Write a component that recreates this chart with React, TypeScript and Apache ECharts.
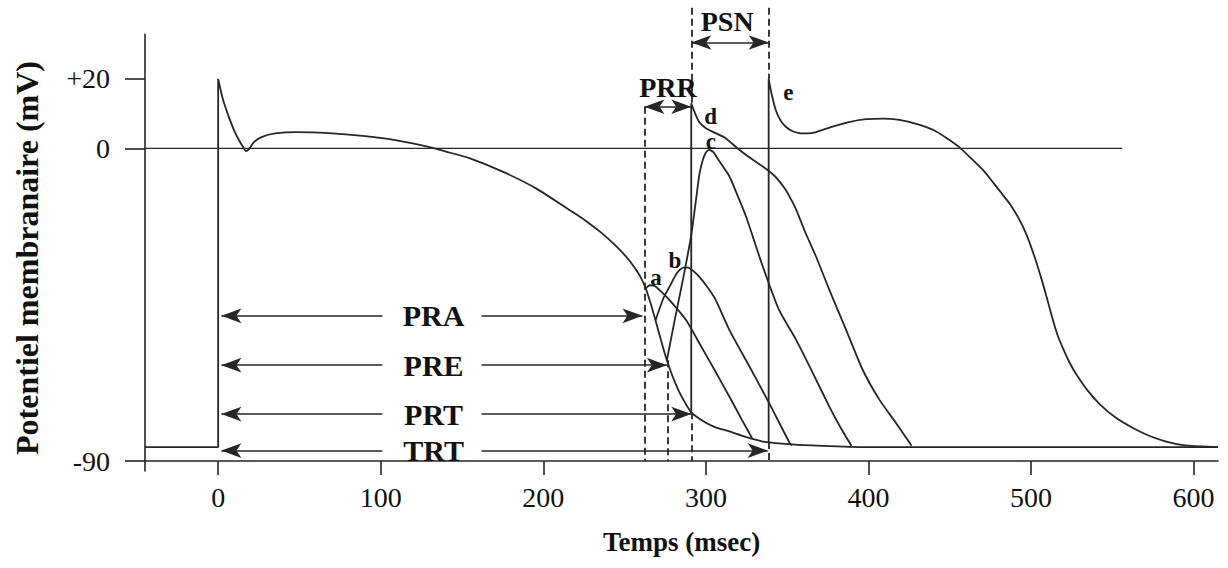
import React, { useEffect, useRef } from "react";
import * as echarts from "echarts";

// ---- axis ranges & ticks ----
const X_MIN = -45;
const X_MAX = 615;
const Y_MIN = -90;
const Y_MAX = 41;
const xTicks = [0, 100, 200, 300, 400, 500, 600];
const yTicks = [-90, 0, 20];

// ---- traces (time ms, potential mV) ----
const mainAP: number[][] = [
  [-45, -86], [0, -86], [0, 20], [3, 14], [7, 8.5], [10, 5], [13, 2.2], [15.5, 0.3], [17, -0.8], [19, -0.2],
  [22, 1.8], [27, 3.3], [35, 4.3], [48, 4.7], [68, 4.4], [89, 3.6], [109, 2.4], [124, 1], [133, 0], [140, -0.9],
  [154.5, -2.8], [175, -6.7], [195.5, -11.5], [216, -17.7], [226, -20.8], [236, -24.4], [244, -27.8],
  [251, -31.2], [256, -34.2], [260, -37.2], [263, -40.3], [266, -44.6], [269, -49.5], [276, -61], [283, -69.5],
  [291, -76], [300, -79], [306, -80.3], [314.5, -81.5], [324, -83], [335, -84.4], [355, -85.3], [376, -85.7],
  [400, -86], [615, -86],
];
const curveA: number[][] = [
  [263, -40.3], [265.5, -39.4], [268.5, -39.6], [272, -41], [277.5, -43.6], [287.8, -49.4], [296, -56.1],
  [305, -63.5], [314.5, -71.5], [322, -78], [328.5, -83.5],
];
const curveB: number[][] = [
  [269, -49.5], [274, -43], [278, -39.5], [282, -36], [286, -34.3], [289, -34.3], [292, -35.2], [296, -37],
  [301, -40], [306, -43.6], [314.5, -52.3], [326.8, -62.8], [339, -73.4], [351.4, -84.7], [353, -85.5],
];
const curveC: number[][] = [
  [276, -61], [281, -49], [286, -37.5], [291, -25], [294, -14.5], [296, -7.5], [298, -3.5], [300, -1.2],
  [302, -0.4], [304.5, -1], [308, -3.5], [314.5, -8.1], [319, -13], [324.7, -19.6], [335, -34], [345, -46.5],
  [355.6, -55.2], [365.8, -64.7], [376, -74.4], [383, -80.5], [389.5, -85.6],
];
const curveD: number[][] = [
  [291, -76], [291, 13], [293, 10.5], [296, 7.5], [300, 5.8], [305, 4.6], [312, 3], [319, 0.2], [325, -2],
  [335, -5.2], [342, -7.8], [348, -11.2], [352, -14.3], [355.6, -17.7], [361, -24], [367.8, -31.2], [376, -40.8],
  [386.3, -52.3], [396.5, -63.8], [406.8, -72.4], [417, -79.1], [422, -82.5], [426.5, -85.6],
];
const curveE: number[][] = [
  [338.6, -84.5], [338.6, 20], [340.5, 15.5], [343, 11], [346, 8], [349, 6.3], [353, 5], [357.5, 4.4],
  [363, 4.3], [367.8, 4.7], [378, 6.3], [388, 7.6], [398.6, 8.4], [409, 8.6], [419, 8.2], [430, 7], [440, 5.3],
  [448, 3], [456, 0.3], [463, -2.8], [470.4, -6.2], [477, -10], [482, -13], [487, -16], [492, -19.8],
  [497, -24.6], [502, -31], [507, -38.5], [510, -43.5], [513.5, -49.5], [516.5, -54], [519.6, -57.5],
  [523.5, -61.5], [527.8, -65], [535, -69.8], [542.2, -73.6], [552, -77.5], [562.7, -80.5], [573, -82.8],
  [583.2, -84.4], [593.4, -85.4], [605, -85.8], [615, -86],
];
const zeroLine: number[][] = [[-45, 0], [556, 0]];
const yAxisLine: number[][] = [[-45, -93], [-45, 33]];

// ---- annotation values ----
const rowNames = ["PRA", "PRE", "PRT", "TRT"];
const rowLevels = [-48.2, -62.4, -76.5, -87];
const rowEnds = [261, 276, 291, 338];
const rowStart = 2;
const rowGap = [101, 162];
const rowLabelT = 132.5;

const dashLines: number[][][] = [
  [[262.2, 12], [262.2, -90]],
  [[276.3, -61], [276.3, -90]],
  [[291, 40.5], [291, 13]],
  [[291, -76], [291, -90]],
  [[338.6, 40.5], [338.6, 20]],
  [[338.6, -84.5], [338.6, -90]],
];
const prr = { from: 262.2, to: 291, level: 12, labelT: 276.7, labelV: 17.4 };
const psn = { from: 291, to: 338.6, level: 30.5, labelT: 313.1, labelV: 36.4 };
const curveLetters = [
  { name: "a", t: 269.3, v: -37.3 },
  { name: "b", t: 280.9, v: -32.4 },
  { name: "c", t: 303, v: 2.1 },
  { name: "d", t: 303, v: 9.1 },
  { name: "e", t: 350.8, v: 16.1 },
];

const FONT = "'Liberation Serif', 'Times New Roman', serif";
const INK = "#111111";
const LINE = "#262626";

export default function App() {
  const ref = useRef<HTMLDivElement>(null);
  useEffect(() => {
    if (!ref.current) return;
    const chart = echarts.init(ref.current, undefined, { renderer: "svg" });

    const curve = (data: number[][], z = 3) => ({
      type: "line",
      data,
      showSymbol: false,
      symbol: "none",
      smooth: 0.2,
      silent: true,
      z,
      lineStyle: { color: LINE, width: 1.8 },
    });

    const seg = (a: number[], b: number[], s0: string, s1: string, dashed = false) => [
      { coord: a, symbol: s0, lineStyle: { type: dashed ? [7, 4] : "solid", width: dashed ? 1.8 : 1.6, color: LINE } },
      { coord: b, symbol: s1 },
    ];

    const mlData: any[] = [];
    dashLines.forEach((d) => mlData.push(seg(d[0], d[1], "none", "none", true)));
    rowNames.forEach((_, i) => {
      const v = rowLevels[i];
      mlData.push(seg([rowGap[0], v], [rowStart, v], "none", "arrow"));
      mlData.push(seg([rowGap[1], v], [rowEnds[i], v], "none", "arrow"));
    });
    mlData.push(seg([prr.from, prr.level], [prr.to, prr.level], "arrow", "arrow"));
    mlData.push(seg([psn.from, psn.level], [psn.to, psn.level], "arrow", "arrow"));

    const labelData: any[] = [];
    rowNames.forEach((n, i) =>
      labelData.push({ name: n, value: [rowLabelT, rowLevels[i]], label: { fontSize: 30 } })
    );
    labelData.push({ name: "PRR", value: [prr.labelT, prr.labelV], label: { fontSize: 28 } });
    labelData.push({ name: "PSN", value: [psn.labelT, psn.labelV], label: { fontSize: 28 } });
    curveLetters.forEach((c) => labelData.push({ name: c.name, value: [c.t, c.v], label: { fontSize: 23 } }));

    chart.setOption({
      animation: false,
      backgroundColor: "#ffffff",
      grid: { left: 145, right: 10, top: 6, bottom: 107, containLabel: false, outerBoundsMode: "none" },
      graphic: [
        {
          type: "text",
          x: 27,
          y: 258,
          rotation: Math.PI / 2,
          silent: true,
          style: {
            text: "Potentiel membranaire (mV)",
            align: "center",
            verticalAlign: "middle",
            fontSize: 32,
            fontWeight: "bold",
            fontFamily: FONT,
            fill: INK,
          },
        },
      ],
      xAxis: {
        type: "value",
        min: X_MIN,
        max: X_MAX,
        splitLine: { show: false },
        axisLine: { show: true, onZero: false, lineStyle: { color: LINE, width: 1.6 } },
        axisTick: { show: true, customValues: xTicks, length: 14, lineStyle: { color: LINE, width: 1.6 } },
        axisLabel: { customValues: xTicks, margin: 22, fontSize: 28, fontFamily: FONT, color: INK },
        name: "Temps (msec)",
        nameLocation: "middle",
        nameGap: 67,
        nameTextStyle: { fontSize: 27, fontWeight: "bold", fontFamily: FONT, color: INK },
      },
      yAxis: {
        type: "value",
        min: Y_MIN,
        max: Y_MAX,
        splitLine: { show: false },
        axisLine: { show: false, onZero: false },
        axisTick: { show: true, customValues: yTicks, length: 20, lineStyle: { color: LINE, width: 1.6 } },
        axisLabel: {
          customValues: yTicks,
          margin: 35,
          fontSize: 28,
          fontFamily: FONT,
          color: INK,
          formatter: (v: number) => (v > 0 ? "+" + v : String(v)),
        },
      },
      series: [
        { ...curve(yAxisLine, 2), smooth: false, clip: false, lineStyle: { color: LINE, width: 1.6 } },
        {
          ...curve(zeroLine, 2),
          smooth: false,
          lineStyle: { color: LINE, width: 1.4 },
          markLine: {
            silent: true,
            animation: false,
            symbolSize: [11, 20],
            label: { show: false },
            lineStyle: { color: LINE, width: 1.6 },
            itemStyle: { color: LINE },
            data: mlData,
          },
        },
        curve(mainAP),
        curve(curveA),
        curve(curveB),
        curve(curveC),
        curve(curveD),
        curve(curveE),
        {
          type: "scatter",
          data: labelData,
          symbolSize: 0,
          silent: true,
          clip: false,
          z: 10,
          itemStyle: { color: INK, opacity: 1 },
          label: {
            show: true,
            position: "inside",
            formatter: (p: any) => p.name,
            fontFamily: FONT,
            fontWeight: "bold",
            color: INK,
            opacity: 1,
            textBorderWidth: 0,
            textBorderColor: "transparent",
          },
        },
      ],
    });
    return () => chart.dispose();
  }, []);

  return (
    <div
      ref={ref}
      style={{ position: "fixed", left: 0, top: 0, width: 1228, height: 568, background: "#fff" }}
    />
  );
}
